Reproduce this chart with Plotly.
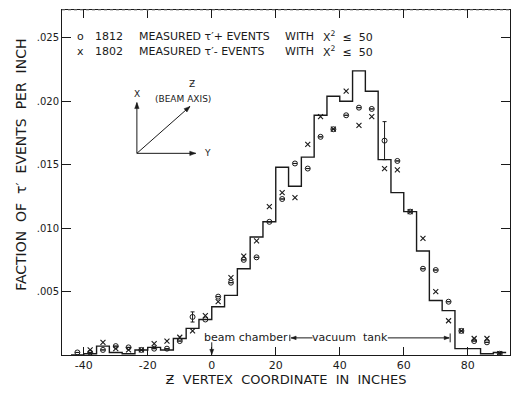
import math
import plotly.graph_objects as go

# ---- data -------------------------------------------------------------
bin_edges = list(range(-44, 96, 4))          # histogram bin edges (inches)
hist_vals = [0.0000, 0.0001, 0.0007, 0.0002, 0.0001, 0.0004, 0.0006, 0.0004,
             0.0013, 0.0021, 0.0028, 0.0038, 0.0047, 0.0068, 0.0093, 0.0105,
             0.0148, 0.0133, 0.0156, 0.0189, 0.0204, 0.0200, 0.0224, 0.0208,
             0.0154, 0.0128, 0.0113, 0.0082, 0.0043, 0.0035, 0.0005, 0.0005,
             0.0001, 0.0002]

centers = list(range(-42, 94, 4))
plus_vals = [0.0002, 0.0002, 0.0004, 0.0007, 0.0006, 0.0004, 0.0005, 0.0005,
             0.0011, 0.0030, 0.0028, 0.0046, 0.0057, 0.0075, 0.0077, 0.0105,
             0.0123, 0.0151, 0.0147, 0.0172, 0.0178, 0.0189, 0.0195, 0.0194,
             0.0169, 0.0153, 0.0113, 0.0068, 0.0067, 0.0042, 0.0019, 0.0011,
             0.0010, 0.0001]
plus_err = [0, 0, 0, 0, 0, 0, 0, 0, 0, 0.0004, 0, 0, 0, 0, 0, 0, 0, 0, 0, 0,
            0, 0, 0, 0, 0.0015, 0, 0, 0, 0, 0, 0, 0, 0, 0]
minus_vals = [None, 0.0004, 0.0010, 0.0005, 0.0004, 0.0004, 0.0009, 0.0011,
              0.0014, 0.0019, 0.0031, 0.0042, 0.0061, 0.0078, 0.0090, 0.0117,
              0.0128, 0.0124, 0.0166, 0.0188, 0.0178, 0.0208, 0.0181, 0.0188,
              0.0147, 0.0146, 0.0113, 0.0092, 0.0050, 0.0027, 0.0019, 0.0013,
              0.0013, 0.0001]

x_tickvals = [-40, -20, 0, 20, 40, 60, 80]
x_ticktext = ["-40", "-20", "0", "20", "40", "60", "80"]
y_tickvals = [0.005, 0.010, 0.015, 0.020, 0.025]
y_ticktext = [".005", ".010", ".015", ".020", ".025"]

FONT = "DejaVu Sans"
INK = "#1a1a1a"
W, H = 513, 394
ML, MR, MT, MB = 62, 3, 10, 39
XR = [-46.8, 93.2]
YR = [0, 0.0272]
PW, PH = W - ML - MR, H - MT - MB
SX = PW / (XR[1] - XR[0])
SY = PH / (YR[1] - YR[0])

fig = go.Figure()

# step histogram
fig.add_trace(go.Scatter(
    x=bin_edges, y=hist_vals + [hist_vals[-1]],
    mode="lines", line=dict(color=INK, width=1.4, shape="hv"),
    showlegend=False, hoverinfo="skip"))

fig.add_trace(go.Scatter(
    x=centers, y=plus_vals, mode="markers",
    marker=dict(symbol="circle-open", size=5, color=INK, line=dict(width=1)),
    error_y=dict(type="data", array=plus_err, visible=True, color=INK,
                 thickness=1, width=2),
    showlegend=False))

fig.add_trace(go.Scatter(
    x=centers, y=minus_vals, mode="markers",
    marker=dict(symbol="x-thin-open", size=5, color=INK, line=dict(width=1.1)),
    showlegend=False))

ann = []
shapes = []


def px(p):
    return (p - ML) / PW


def py(p):
    return 1 - (p - MT) / PH


# legend-like text block
tf = dict(family=FONT, size=11, color=INK)
for row_y, sym, count, sign in [(36, "o", "1812", "+"), (52, "x", "1802", "-")]:
    yy = py(row_y)
    ann.append(dict(xref="paper", yref="paper", x=px(80), y=yy, xanchor="center",
                    yanchor="middle", showarrow=False, font=tf, text=sym))
    ann.append(dict(xref="paper", yref="paper", x=px(93), y=yy, xanchor="left",
                    yanchor="middle", showarrow=False, font=tf, text=count))
    ann.append(dict(xref="paper", yref="paper", x=px(137), y=yy, xanchor="left",
                    yanchor="middle", showarrow=False, font=tf,
                    text="MEASURED τ′" + sign + " EVENTS"))
    ann.append(dict(xref="paper", yref="paper", x=px(283), y=yy, xanchor="left",
                    yanchor="middle", showarrow=False, font=tf, text="WITH"))
    ann.append(dict(xref="paper", yref="paper", x=px(321), y=yy, xanchor="left",
                    yanchor="middle", showarrow=False, font=tf,
                    text="X<sup>2</sup> &nbsp;≤ &nbsp;50"))


def add_arrow(x0, y0, x1, y1, head=6.0, half=2.2, width=1.0):
    shapes.append(dict(type="line", xref="x", yref="y", x0=x0, y0=y0, x1=x1, y1=y1,
                       line=dict(color=INK, width=width)))
    dx = (x1 - x0) * SX
    dy = (y1 - y0) * SY
    n = math.hypot(dx, dy)
    ux, uy = dx / n, dy / n
    vx, vy = -uy, ux
    bx, by = -head * ux, -head * uy
    p1 = (bx + half * vx, by + half * vy)
    p2 = (bx - half * vx, by - half * vy)
    path = "M 0,0 L {:.2f},{:.2f} L {:.2f},{:.2f} Z".format(p1[0], p1[1], p2[0], p2[1])
    shapes.append(dict(type="path", xref="x", yref="y", xsizemode="pixel",
                       ysizemode="pixel", xanchor=x1, yanchor=y1, path=path,
                       fillcolor=INK, line=dict(color=INK, width=0.5)))


# coordinate diagram
ox, oy = -23.4, 0.0159
add_arrow(ox, oy, ox, 0.0199)
add_arrow(ox, oy, -5.0, oy)
add_arrow(ox, oy, -6.8, 0.0196)
small = dict(family=FONT, size=9, color=INK)
ann.append(dict(xref="x", yref="y", x=ox, y=0.0206, text="X", showarrow=False, font=small))
ann.append(dict(xref="x", yref="y", x=-3.0, y=oy, text="Y", showarrow=False, font=small,
                xanchor="left"))
ann.append(dict(xref="x", yref="y", x=-6.2, y=0.0214, text="Ƶ", showarrow=False, font=small))
ann.append(dict(xref="x", yref="y", x=-9.0, y=0.0202, text="(BEAM AXIS)", showarrow=False,
                font=small))

# beam chamber / vacuum tank
lab = dict(family=FONT, size=11, color=INK)
ann.append(dict(xref="x", yref="y", x=10.6, y=0.00135, text="beam chamber",
                showarrow=False, font=lab))
add_arrow(0, 0.0010, 0, 0.00005, head=5, half=2)
ann.append(dict(xref="x", yref="y", x=43.2, y=0.00135, text="vacuum  tank",
                showarrow=False, font=lab))
add_arrow(31.5, 0.00135, 24.8, 0.00135, head=5, half=1.8)
add_arrow(55.0, 0.00135, 74.2, 0.00135, head=5, half=1.8)
shapes.append(dict(type="line", xref="x", yref="y", x0=74.5, x1=74.5, y0=0.0010, y1=0.0017,
                   line=dict(color=INK, width=1)))
shapes.append(dict(type="line", xref="x", yref="y", x0=24.4, x1=24.4, y0=0.0011, y1=0.0016,
                   line=dict(color=INK, width=1)))

shapes.append(dict(type="line", xref="paper", yref="paper", x0=0, x1=1, y0=1, y1=1,
                   line=dict(color="#9a9a9a", width=1, dash="dot")))

x_title = "Ƶ &nbsp;VERTEX &nbsp;COORDINATE &nbsp;IN &nbsp;INCHES"
y_title = "&nbsp;" * 8 + "FACTION &nbsp;OF &nbsp;τ′ &nbsp;EVENTS &nbsp;PER &nbsp;INCH"

fig.update_layout(
    width=W, height=H,
    margin=dict(l=ML, r=MR, t=MT, b=MB),
    paper_bgcolor="white", plot_bgcolor="white",
    annotations=ann, shapes=shapes,
    showlegend=False,
    font=dict(family=FONT, size=10, color=INK),
)
fig.update_xaxes(range=XR, tickvals=x_tickvals, ticktext=x_ticktext,
                 ticks="inside", ticklen=8, tickwidth=1, tickcolor=INK,
                 showline=True, linecolor=INK, linewidth=1, mirror="ticks",
                 showgrid=False, zeroline=False, automargin=False,
                 title=dict(text=x_title, font=dict(family=FONT, size=13, color=INK),
                            standoff=2),
                 tickfont=dict(family=FONT, size=11, color=INK))
fig.update_yaxes(range=YR, tickvals=y_tickvals, ticktext=y_ticktext,
                 ticks="inside", ticklen=9, tickwidth=1, tickcolor=INK,
                 showline=True, linecolor=INK, linewidth=1, mirror="ticks",
                 showgrid=False, zeroline=False, automargin=False,
                 title=dict(text=y_title, font=dict(family=FONT, size=14, color=INK),
                            standoff=6),
                 tickfont=dict(family=FONT, size=10, color=INK))

fig.write_html("out.html")
